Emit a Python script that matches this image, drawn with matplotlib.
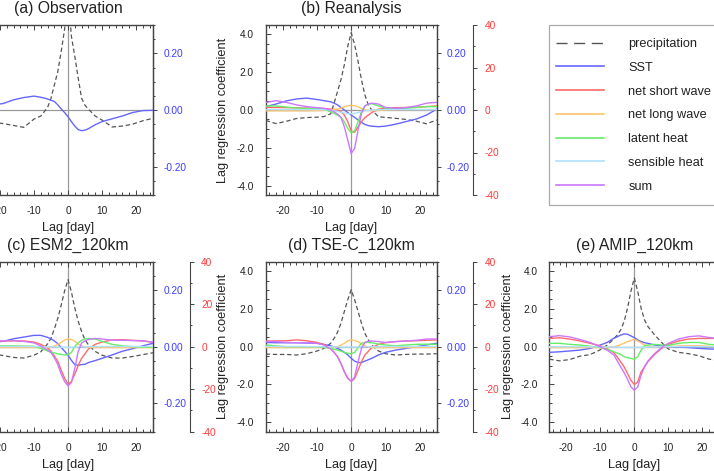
import matplotlib
matplotlib.use("Agg")
import matplotlib.pyplot as plt
from matplotlib.lines import Line2D
from matplotlib.patches import Rectangle
from matplotlib.ticker import MultipleLocator, FormatStrFormatter

plt.rcParams['font.family'] = ['Liberation Sans', 'DejaVu Sans']
plt.rcParams['axes.unicode_minus'] = False

# lag (days)
lag = [-25, -22, -19, -16, -13, -10, -8, -6, -5, -4, -3, -2, -1, 0,
       1, 2, 3, 4, 5, 6, 8, 10, 13, 16, 19, 22, 25]

# (a) Observation: precipitation (left axis), SST (blue axis)
prc_obs = [-0.6, -0.65, -0.72, -0.82, -0.92, -0.48, -0.32, 0.14, 0.62, 1.33, 2.04, 3.1, 4.27, 6.2,
           3.9, 2.84, 1.69, 0.62, 0.25, 0.05, -0.32, -0.53, -0.9, -0.85, -0.75, -0.57, -0.44]
sst_obs = [0.015, 0.018, 0.023, 0.036, 0.044, 0.049, 0.045, 0.039, 0.034, 0.03, 0.018, 0.004, -0.009, -0.024,
           -0.041, -0.057, -0.069, -0.073, -0.071, -0.066, -0.052, -0.041, -0.031, -0.021, -0.009, -0.002, -0.001]

# (b) Reanalysis
prc_rea = [-0.55, -0.72, -0.6, -0.45, -0.4, -0.38, -0.35, -0.2, 0.36, 0.98, 1.6, 2.4, 3.38, 4.09,
           3.47, 2.58, 1.6, 0.8, 0.27, 0.0, -0.36, -0.39, -0.44, -0.5, -0.59, -0.73, -0.53]
sst_rea = [0.012, 0.021, 0.032, 0.039, 0.042, 0.037, 0.033, 0.029, 0.024, 0.018, 0.009, 0.0, -0.009, -0.018,
           -0.026, -0.035, -0.044, -0.051, -0.055, -0.057, -0.059, -0.057, -0.05, -0.041, -0.032, -0.018, 0.003]
sw_rea = [1.2, 1.2, 1.1, 1.0, 0.9, 0.8, 0.7, 0.4, 0.3, 0.0, -0.8, -2.4, -5.5, -9.8,
          -10.5, -7.9, -5.5, -3.6, -2.4, -1.2, 0.4, 0.8, 1.1, 1.2, 1.3, 1.6, 1.9]
lw_rea = [-0.4, -0.4, -0.4, -0.4, -0.4, -0.3, -0.2, 0.0, 0.2, 0.4, 0.9, 1.5, 2.0, 2.2,
          2.0, 1.5, 0.7, 0.0, -0.2, -0.3, -0.2, 0.0, 0.1, 0.2, 0.2, 0.2, 0.2]
lh_rea = [1.9, 1.9, 1.4, 0.9, 0.7, 0.6, 0.4, -0.9, -1.6, -2.4, -3.5, -5.5, -8.7, -10.7,
          -9.8, -5.5, -0.8, 1.9, 2.7, 3.0, 1.9, 0.9, 0.6, 0.8, 1.2, 1.6, 1.6]
sh_rea = [0.2, 0.2, 0.2, 0.2, 0.2, 0.2, 0.1, 0.0, -0.4, -0.7, -1.1, -1.4, -1.7, -1.8,
          -1.6, -1.2, -0.8, -0.4, -0.2, 0.0, 0.1, 0.2, 0.2, 0.2, 0.2, 0.2, 0.2]
tot_rea = [3.5, 4.4, 3.6, 2.4, 1.6, 1.1, 0.8, 0.0, -0.9, -1.9, -3.5, -7.9, -14.2, -20.5,
           -18.1, -9.5, -1.6, 1.9, 2.9, 3.2, 2.8, 1.2, 0.8, 1.1, 1.9, 3.2, 3.6]

# (c) ESM2_120km
prc_esm = [-0.3, -0.38, -0.47, -0.57, -0.6, -0.45, -0.27, 0.15, 0.44, 0.95, 1.5, 2.2, 2.95, 3.55,
           2.9, 2.05, 1.35, 0.8, 0.36, 0.1, -0.25, -0.45, -0.6, -0.6, -0.52, -0.42, -0.32]
sst_esm = [0.015, 0.016, 0.019, 0.028, 0.034, 0.04, 0.04, 0.033, 0.028, 0.02, 0.011, -0.003, -0.016, -0.03,
           -0.048, -0.063, -0.066, -0.063, -0.062, -0.056, -0.049, -0.041, -0.029, -0.016, -0.007, 0.003, 0.012]
sw_esm = [2.7, 2.7, 2.7, 2.8, 2.7, 2.2, 1.1, -0.6, -2.0, -4.4, -6.9, -11.1, -14.8, -17.6,
          -16.4, -12.9, -8.9, -5.5, -3.3, -1.1, 1.1, 2.2, 3.2, 3.3, 3.0, 2.8, 2.0]
lw_esm = [-0.4, -0.4, -0.4, -0.4, -0.4, -0.4, -0.4, -0.3, -0.2, 0.3, 1.1, 2.1, 3.1, 3.6,
          3.4, 2.5, 1.2, 0.4, -0.1, -0.3, -0.4, -0.4, -0.4, -0.4, -0.4, -0.4, -0.4]
lh_esm = [0.4, 0.4, 0.4, 0.4, 0.3, 0.2, -0.8, -2.0, -2.7, -2.9, -3.4, -3.6, -3.9, -3.7,
          -2.7, 0.2, 1.8, 3.0, 3.6, 3.9, 3.6, 2.5, 1.1, 0.4, 0.0, -0.2, -0.2]
sh_esm = [0.1, 0.1, 0.1, 0.1, 0.1, 0.0, 0.0, -0.1, -0.1, -0.2, -0.2, -0.3, -0.3, -0.3,
          -0.3, -0.2, -0.2, -0.1, -0.1, 0.0, 0.0, 0.1, 0.1, 0.1, 0.1, 0.1, 0.1]
tot_esm = [2.7, 2.7, 2.7, 2.8, 2.5, 1.8, 0.3, -1.6, -2.7, -5.3, -8.4, -12.9, -16.4, -18.4,
           -16.9, -10.2, -2.3, 1.8, 2.7, 3.4, 3.9, 3.6, 3.1, 3.0, 2.9, 2.7, 2.2]

# (d) TSE-C_120km
prc_tse = [-0.39, -0.41, -0.41, -0.44, -0.37, -0.23, -0.09, 0.18, 0.44, 0.76, 1.24, 1.87, 2.49, 3.02,
           2.49, 1.87, 1.24, 0.71, 0.36, 0.09, -0.23, -0.37, -0.44, -0.41, -0.39, -0.39, -0.37]
sst_tse = [0.015, 0.014, 0.014, 0.014, 0.013, 0.012, 0.008, 0.003, -0.001, -0.006, -0.012, -0.02, -0.029, -0.041,
           -0.051, -0.056, -0.056, -0.051, -0.046, -0.041, -0.029, -0.02, -0.012, -0.006, 0.0, 0.006, 0.012]
sw_tse = [2.7, 2.7, 2.8, 3.2, 2.8, 2.0, 1.1, -0.8, -2.6, -4.7, -7.9, -11.8, -14.7, -16.3,
          -15.0, -11.0, -7.1, -3.9, -2.2, -0.4, 1.1, 1.9, 2.4, 2.7, 2.8, 3.0, 3.2]
lw_tse = [-0.4, -0.4, -0.4, -0.4, -0.4, -0.4, -0.4, -0.4, -0.3, 0.0, 0.7, 1.6, 2.7, 3.2,
          2.9, 2.4, 1.3, 0.4, 0.0, -0.4, -0.4, -0.4, -0.4, -0.4, -0.4, -0.4, -0.4]
lh_tse = [0.8, 0.4, 0.0, 0.0, 0.0, 0.0, -0.3, -0.8, -1.2, -1.6, -2.1, -2.7, -3.1, -3.3,
          -2.7, -0.4, 1.6, 2.0, 2.0, 1.9, 1.2, 0.8, 0.4, 0.8, 1.1, 1.2, 1.1]
sh_tse = [0.1, 0.1, 0.1, 0.1, 0.1, 0.0, 0.0, 0.0, -0.1, -0.1, -0.2, -0.2, -0.2, -0.2,
          -0.2, -0.2, -0.1, -0.1, 0.0, 0.0, 0.0, 0.1, 0.1, 0.1, 0.1, 0.1, 0.1]
tot_tse = [2.4, 2.4, 2.0, 1.9, 1.9, 1.6, 0.8, -1.1, -2.7, -4.7, -7.9, -11.8, -15.0, -16.3,
           -14.2, -7.1, -0.8, 2.0, 2.5, 2.7, 2.4, 2.0, 2.4, 2.7, 3.0, 3.6, 3.6]

# (e) AMIP_120km
prc_amip = [-0.66, -0.75, -0.68, -0.5, -0.42, -0.16, 0.08, 0.42, 0.62, 0.89, 1.33, 2.04, 2.93, 3.64,
            2.93, 2.04, 1.42, 1.07, 0.84, 0.62, 0.23, -0.12, -0.3, -0.37, -0.48, -0.66, -0.74]
sst_amip = [-0.02, -0.018, -0.015, -0.012, -0.006, 0.006, 0.015, 0.03, 0.035, 0.041, 0.045, 0.044, 0.038, 0.032,
            0.024, 0.018, 0.014, 0.012, 0.009, 0.006, 0.003, 0.001, -0.001, -0.003, -0.006, -0.008, -0.009]
sw_amip = [3.9, 4.2, 3.6, 2.7, 1.6, 0.4, -0.9, -2.8, -4.9, -7.1, -9.5, -12.6, -15.8, -17.8,
           -16.6, -11.8, -9.5, -7.1, -5.3, -3.6, -0.8, 1.1, 2.7, 3.6, 3.9, 3.9, 3.9]
lw_amip = [-0.4, -0.4, -0.4, -0.4, -0.4, -0.4, -0.4, 0.0, 0.4, 1.0, 1.6, 2.4, 2.9, 3.5,
           2.7, 1.8, 0.8, 0.4, 0.0, -0.2, 0.0, 0.0, 0.3, 0.4, 0.4, 0.2, 0.0]
lh_amip = [1.6, 1.6, 1.1, 0.8, 0.2, -0.4, -1.2, -2.4, -3.0, -3.6, -4.7, -5.2, -5.5, -5.9,
           -4.7, -1.6, 0.4, 0.8, 0.9, 1.1, 0.8, 0.6, 1.6, 2.0, 2.0, 1.1, 0.8]
sh_amip = [0.0, 0.0, 0.0, 0.0, 0.0, -0.1, -0.1, -0.2, -0.2, -0.3, -0.3, -0.4, -0.4, -0.4,
           -0.4, -0.3, -0.3, -0.2, -0.2, -0.1, -0.1, 0.0, 0.0, 0.0, 0.0, 0.0, 0.0]
tot_amip = [4.7, 5.2, 4.6, 3.4, 2.0, 0.0, -1.6, -3.9, -6.7, -9.5, -12.2, -15.3, -18.9, -20.5,
            -18.9, -13.4, -9.5, -6.8, -4.9, -3.2, -0.4, 1.6, 3.6, 4.7, 5.1, 4.3, 3.9]

names = ['precipitation', 'SST', 'net short wave', 'net long wave',
         'latent heat', 'sensible heat', 'sum']
cols = ['#555555', '#6666ff', '#ff6a6a', '#ffc46a', '#66ee66', '#aee0ff', '#cc77ff']

W, H = 714, 471
spine_col = '#444444'
text_col = '#222222'
zero_col = '#9a9a9a'
blue_lab = '#3c3cff'
red_lab = '#ff3c3c'

fig = plt.figure(figsize=(W / 100, H / 100), dpi=100)


def px_rect(x0, y0, w, h):
    return [x0 / W, 1 - (y0 + h) / H, w / W, h / H]


def panel(rect, title, prc, sst, flux=None, ylab_x=-0.217):
    ax = fig.add_axes(rect)
    ax.set_xlim(-25, 25)
    ax.set_ylim(-4.5, 4.5)
    ax.axhline(0, color=zero_col, lw=0.9, zorder=1)
    ax.axvline(0, color=zero_col, lw=0.9, zorder=1)
    ax.plot(lag, prc, color=cols[0], lw=0.9, dashes=(3.5, 2.2), zorder=5)
    ax.xaxis.set_major_locator(MultipleLocator(10))
    ax.xaxis.set_minor_locator(MultipleLocator(2))
    ax.yaxis.set_major_locator(MultipleLocator(2))
    ax.yaxis.set_minor_locator(MultipleLocator(0.5))
    ax.yaxis.set_major_formatter(FormatStrFormatter('%.1f'))
    ax.tick_params(which='both', direction='in', top=True, right=False,
                   color=spine_col, labelcolor=text_col, width=0.7)
    ax.tick_params(which='major', length=3.6, labelsize=7.3)
    ax.tick_params(which='minor', length=2)
    ax.tick_params(axis='x', pad=8)
    ax.tick_params(axis='y', pad=8.5)
    for s in ax.spines.values():
        s.set_color(spine_col)
        s.set_linewidth(1.0)
    ax.set_title(title, fontsize=11.3, color=text_col, pad=8.3)
    ax.set_xlabel('Lag [day]', fontsize=9.2, color=text_col)
    ax.xaxis.set_label_coords(0.5, -0.16)
    ax.set_ylabel('Lag regression coefficient', fontsize=9.2, color=text_col)
    ax.yaxis.set_label_coords(ylab_x, 0.5)

    axb = ax.twinx()
    axb.set_ylim(-0.3, 0.3)
    axb.plot(lag, sst, color=cols[1], lw=1.0)
    axb.yaxis.set_major_locator(MultipleLocator(0.2))
    axb.yaxis.set_minor_locator(MultipleLocator(0.05))
    axb.yaxis.set_major_formatter(FormatStrFormatter('%.2f'))
    axb.tick_params(which='both', direction='out', color=spine_col,
                    labelcolor=blue_lab, width=0.7, pad=4.5)
    axb.tick_params(which='major', length=2.8, labelsize=7.3)
    axb.tick_params(which='minor', length=1.6)
    for k in ['left', 'top', 'bottom']:
        axb.spines[k].set_visible(False)
    axb.spines['right'].set_color(spine_col)

    if flux is not None:
        axr = ax.twinx()
        axr.set_ylim(-40, 40)
        for vals, c in zip(flux, cols[2:]):
            axr.plot(lag, vals, color=c, lw=1.0)
        axr.spines['right'].set_position(('outward', 26.4))
        for k in ['left', 'top', 'bottom']:
            axr.spines[k].set_visible(False)
        axr.spines['right'].set_color(spine_col)
        axr.yaxis.set_major_locator(MultipleLocator(20))
        axr.yaxis.set_minor_locator(MultipleLocator(10))
        axr.tick_params(which='both', direction='out', color=spine_col,
                        labelcolor=red_lab, width=0.7, pad=5.5)
        axr.tick_params(which='major', length=2.8, labelsize=7.3)
        axr.tick_params(which='minor', length=1.6)
    return ax


panel(px_rect(-17, 25, 170, 170), '(a) Observation', prc_obs, sst_obs)
panel(px_rect(265.7, 25, 171, 170), '(b) Reanalysis', prc_rea, sst_rea,
      [sw_rea, lw_rea, lh_rea, sh_rea, tot_rea])
panel(px_rect(-17, 261.7, 170, 170), '(c) ESM2_120km', prc_esm, sst_esm,
      [sw_esm, lw_esm, lh_esm, sh_esm, tot_esm])
panel(px_rect(265.7, 261.7, 171, 170), '(d) TSE-C_120km', prc_tse, sst_tse,
      [sw_tse, lw_tse, lh_tse, sh_tse, tot_tse])
panel(px_rect(549.3, 261.7, 170, 170), '(e) AMIP_120km', prc_amip, sst_amip,
      [sw_amip, lw_amip, lh_amip, sh_amip, tot_amip], ylab_x=-0.205)

# legend box (frame drawn separately so the rows can sit where the reference has them)
fig.patches.append(Rectangle((549 / W, 1 - 205 / H), 175 / W, 180 / H,
                             transform=fig.transFigure, fill=False,
                             edgecolor='#aaaaaa', lw=0.9))
handles = [Line2D([], [], color=cols[0], lw=1.0, dashes=(8, 4.7))]
handles += [Line2D([], [], color=c, lw=1.2) for c in cols[1:]]
leg = fig.legend(handles, names, loc='upper left',
                 bbox_to_anchor=(556 / W, 1 - 38 / H), borderaxespad=0,
                 fontsize=9.2, handlelength=3.75, handletextpad=1.92,
                 labelspacing=0.92, borderpad=0, frameon=False)
for t in leg.get_texts():
    t.set_color(text_col)

fig.savefig('out.png', dpi=100)
